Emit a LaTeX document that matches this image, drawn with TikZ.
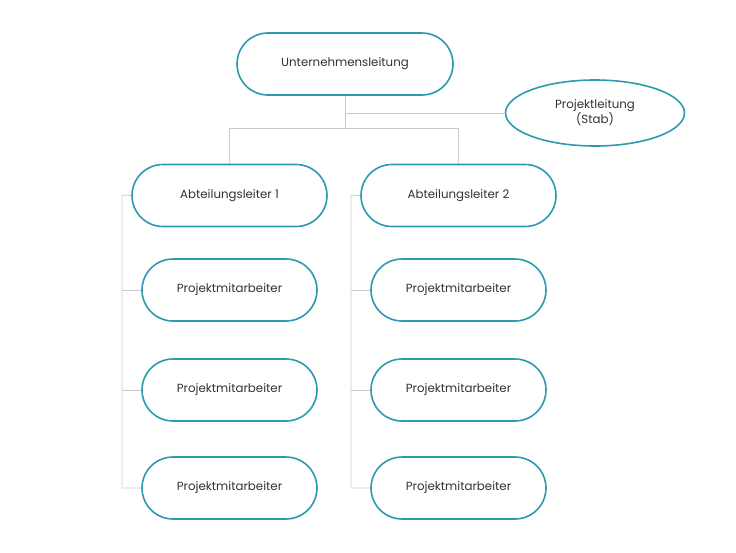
\documentclass[tikz,border=0pt]{standalone}
\usepackage{fontspec}
\setmainfont{Poppins}
\usetikzlibrary{shapes.geometric}
\definecolor{teal1}{HTML}{2C9AAF}
\definecolor{ln}{HTML}{C5CCD0}
\tikzset{
 pill/.style={draw=teal1,line width=1.6pt,rounded corners=31pt,minimum height=62pt,fill=white,font=\fontsize{11.8pt}{13pt}\selectfont,text=black!80},
 oval/.style={draw=teal1,line width=1.6pt,ellipse,minimum width=179pt,minimum height=66pt,fill=white,align=center,font=\fontsize{11.8pt}{12.5pt}\selectfont,text=black!80},
 conn/.style={draw=ln,line width=0.8pt}
}
\begin{document}
\begin{tikzpicture}[x=1pt,y=-1pt]
\useasboundingbox (0,0) rectangle (736,552);
\coordinate (j1) at (345,128);
\coordinate (j2) at (345,113);
\coordinate (l0) at (122,195);\coordinate (l3) at (122,488);
\coordinate (r0) at (351,195);\coordinate (r3) at (351,488);
\coordinate (l1) at (122,290);\coordinate (l2) at (122,390);
\coordinate (r1) at (351,290);\coordinate (r2) at (351,390);
\node[pill,minimum width=216pt] (u) at (345,64) {Unternehmensleitung};
\node[oval] (p) at (595,113) {Projektleitung\\(Stab)};
\node[pill,minimum width=195pt] (a1) at (229.5,195.5) {Abteilungsleiter 1};
\node[pill,minimum width=195pt] (a2) at (458.5,195.5) {Abteilungsleiter 2};
\foreach \y/\n in {290/1,390/2,488/3}{
 \node[pill,minimum width=175pt] (pl\n) at (229.5,\y) {Projektmitarbeiter};
 \node[pill,minimum width=175pt] (pr\n) at (458.5,\y) {Projektmitarbeiter};
}
\draw[conn] (u.south) -- (j1);
\draw[conn] (j2) -- (p.west);
\draw[conn] (j1) -| (a1.north);
\draw[conn] (j1) -| (a2.north);
\draw[conn] (a1.west) -- (l0) -- (l3) -- (pl3.west);
\draw[conn] (l1) -- (pl1.west);
\draw[conn] (l2) -- (pl2.west);
\draw[conn] (a2.west) -- (r0) -- (r3) -- (pr3.west);
\draw[conn] (r1) -- (pr1.west);
\draw[conn] (r2) -- (pr2.west);
\end{tikzpicture}
\end{document}
